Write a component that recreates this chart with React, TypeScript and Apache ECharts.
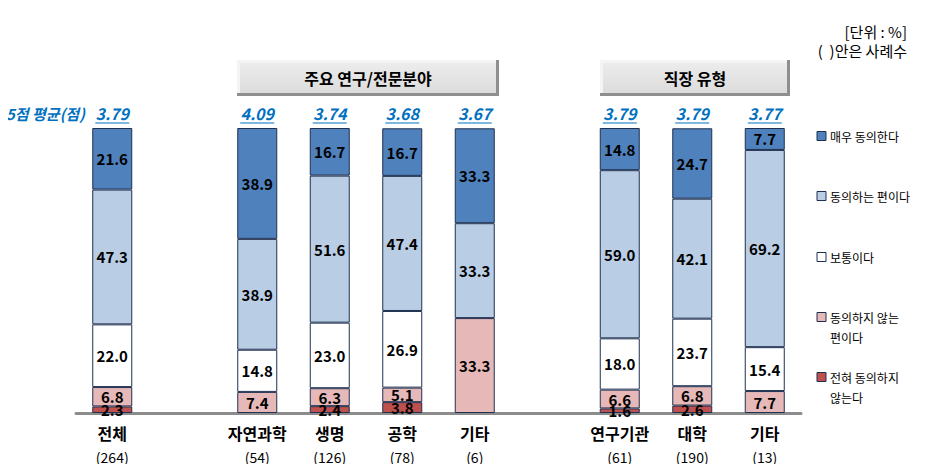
import React, { useEffect, useRef } from "react";
import * as echarts from "echarts";

const categories = ["전체", "", "자연과학", "생명", "공학", "기타", "", "연구기관", "대학", "기타"];
const counts = ["(264)", "", "(54)", "(126)", "(78)", "(6)", "", "(61)", "(190)", "(13)"];
const averages = [3.79, null, 4.09, 3.74, 3.68, 3.67, null, 3.79, 3.79, 3.77];

const seriesNames = ["전혀 동의하지 않는다", "동의하지 않는 편이다", "보통이다", "동의하는 편이다", "매우 동의한다"];
const legendLines = [["전혀 동의하지", "않는다"], ["동의하지 않는", "편이다"], ["보통이다"], ["동의하는 편이다"], ["매우 동의한다"]];
const colors = ["#C0504D", "#E6B9B8", "#FFFFFF", "#B9CDE5", "#4F81BD"];

const stronglyDisagree = [2.3, null, null, 2.4, 3.8, null, null, 1.6, 2.6, null];
const disagree = [6.8, null, 7.4, 6.3, 5.1, 33.3, null, 6.6, 6.8, 7.7];
const neutral = [22.0, null, 14.8, 23.0, 26.9, null, null, 18.0, 23.7, 15.4];
const agree = [47.3, null, 38.9, 51.6, 47.4, 33.3, null, 59.0, 42.1, 69.2];
const stronglyAgree = [21.6, null, 38.9, 16.7, 16.7, 33.3, null, 14.8, 24.7, 7.7];

const seriesValues = [stronglyDisagree, disagree, neutral, agree, stronglyAgree];

const FONT = "'Noto Sans CJK KR', 'Malgun Gothic', sans-serif";
const BLUE = "#0070C0";
const BORDER = "#1F3050";

function headerBox(x: number, y: number, w: number, h: number, label: string) {
  return {
    type: "group",
    children: [
      { type: "rect", shape: { x: x, y: y, width: w, height: h }, style: { fill: "#8f8f8f" } },
      { type: "rect", shape: { x: x, y: y, width: w - 3, height: h - 3 }, style: { fill: "#f4f4f4" } },
      {
        type: "rect",
        shape: { x: x + 3, y: y + 3, width: w - 6, height: h - 6 },
        style: {
          fill: new echarts.graphic.LinearGradient(0, 0, 0, 1, [
            { offset: 0, color: "#ececec" },
            { offset: 1, color: "#dcdcdc" },
          ]),
        },
      },
      {
        type: "text",
        x: x + w / 2,
        y: y + h / 2,
        style: { text: label, align: "center", verticalAlign: "middle", font: `bold 16px ${FONT}`, fill: "#000" },
      },
    ],
  };
}

export default function App() {
  const ref = useRef<HTMLDivElement>(null);
  useEffect(() => {
    if (!ref.current) return;
    const chart = echarts.init(ref.current, null, { renderer: "svg" });

    const legendY = [377, 317, 257, 196, 136];
    const legendGraphics: any[] = [];
    seriesNames.forEach((n, i) => {
      legendGraphics.push({
        type: "rect",
        shape: { x: 817, y: legendY[i] - 4.5, width: 9, height: 9 },
        style: { fill: colors[i], stroke: BORDER, lineWidth: 1 },
      });
      legendLines[i].forEach((t, j) => {
        legendGraphics.push({
          type: "text",
          x: 830,
          y: legendY[i] + j * 20,
          style: { text: t, verticalAlign: "middle", align: "left", font: `12px ${FONT}`, fill: "#000" },
        });
      });
    });

    const avgData = averages
      .map((v, i) => (v == null ? null : [i, 100, v]))
      .filter((d) => d != null);

    const option: any = {
      animation: false,
      grid: { left: 76, right: 134, top: 128, bottom: 59 },
      xAxis: {
        type: "category",
        data: categories,
        axisLine: { show: true, lineStyle: { color: "#8c8c8c", width: 3 } },
        axisTick: { show: false },
        axisLabel: {
          interval: 0,
          margin: 8,
          formatter: (val: string, idx: number) => (val ? `{a|${val}}\n{b|${counts[idx]}}` : ""),
          rich: {
            a: { fontSize: 16, fontWeight: "bold", lineHeight: 24, fontFamily: FONT, color: "#000" },
            b: { fontSize: 14, lineHeight: 24, fontFamily: FONT, color: "#000" },
          },
        },
      },
      yAxis: { type: "value", min: 0, max: 100, show: false, splitLine: { show: false } },
      series: [
        ...seriesNames.map((name, i) => ({
          name,
          type: "bar",
          stack: "total",
          barWidth: 40,
          data: seriesValues[i],
          itemStyle: { color: colors[i], borderColor: BORDER, borderWidth: 1 },
          label: {
            show: true,
            position: "inside",
            formatter: (p: any) => (p.value == null ? "" : Number(p.value).toFixed(1)),
            fontSize: 15,
            fontWeight: "bold",
            fontFamily: FONT,
            color: "#000",
          },
        })),
        {
          type: "custom",
          name: "avg",
          data: avgData,
          encode: { x: 0, y: 1 },
          z: 10,
          renderItem: (params: any, api: any) => {
            const pt = api.coord([api.value(0), api.value(1)]);
            const txt = Number(api.value(2)).toFixed(2);
            return {
              type: "group",
              children: [
                {
                  type: "text",
                  x: pt[0],
                  y: pt[1] - 15,
                  style: {
                    text: txt,
                    align: "center",
                    verticalAlign: "middle",
                    font: `italic bold 16px ${FONT}`,
                    fill: BLUE,
                  },
                },
                {
                  type: "line",
                  shape: { x1: pt[0] - 17, y1: pt[1] - 5, x2: pt[0] + 17, y2: pt[1] - 5 },
                  style: { stroke: BLUE, lineWidth: 1.2 },
                },
              ],
            };
          },
        },
      ],
      graphic: [
        headerBox(237, 60, 262, 36, "주요 연구/전문분야"),
        headerBox(600, 60, 190, 36, "직장 유형"),
        {
          type: "text",
          x: 6,
          y: 113,
          style: { text: "5점 평균(점)", verticalAlign: "middle", font: `italic bold 15px ${FONT}`, fill: BLUE },
        },
        {
          type: "text",
          x: 907,
          y: 31,
          style: { text: "[단위 : %]", align: "right", verticalAlign: "middle", font: `15px ${FONT}`, fill: "#000" },
        },
        {
          type: "text",
          x: 907,
          y: 50,
          style: { text: "(  )안은 사례수", align: "right", verticalAlign: "middle", font: `15px ${FONT}`, fill: "#000" },
        },
        ...legendGraphics,
      ],
    };
    chart.setOption(option);
    return () => chart.dispose();
  }, []);
  return <div ref={ref} style={{ width: 935, height: 472, margin: -8 }} />;
}
